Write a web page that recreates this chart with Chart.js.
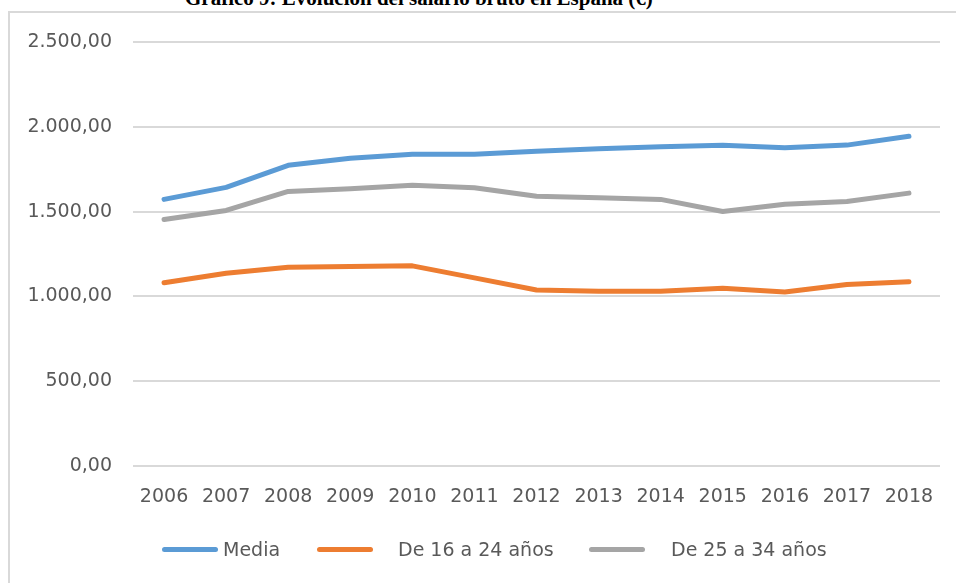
<!DOCTYPE html>
<html>
<head>
<meta charset="utf-8">
<script src="https://cdn.jsdelivr.net/npm/chart.js@4.4.1/dist/chart.umd.min.js"></script>
<style>
    html, body { margin: 0; padding: 0; background: #fff; }
    #wrap { position: relative; width: 956px; height: 583px; overflow: hidden; background: #fff; }
    #frame {
        position: absolute; left: 8px; top: 11px; width: 1000px; height: 700px;
        border-top: 2px solid #d9d9d9; border-left: 2px solid #d9d9d9;
    }
    #title {
        position: absolute; left: 185px; top: -12px; white-space: nowrap;
        font: bold 21px/21px "Liberation Serif", "Times New Roman", serif; color: #000;
    }
    canvas { position: absolute; left: 0; top: 0; }
    .lg-item { position: absolute; top: 537px; display: flex; align-items: center; height: 24px;
        font: 19px "DejaVu Sans", sans-serif; color: #595959; white-space: nowrap; }
    .lg-line { display: inline-block; width: 56px; height: 5px; border-radius: 3px; }
</style>
</head>
<body>
<div id="wrap">
    <div id="frame"></div>
    <div id="title">Gráfico 9: Evolución del salario bruto en España (€)</div>
    <canvas id="chart" width="956" height="583"></canvas>
    <div id="legend"></div>
</div>
<script>
// Datos (euros)
const years = ['2006', '2007', '2008', '2009', '2010', '2011', '2012', '2013', '2014', '2015', '2016', '2017', '2018'];
const media = [1572, 1643, 1773, 1814, 1838, 1838, 1856, 1870, 1882, 1891, 1877, 1892, 1944];
const de16a24 = [1080, 1137, 1172, 1176, 1180, 1109, 1038, 1030, 1030, 1048, 1026, 1070, 1087];
const de25a34 = [1453, 1507, 1619, 1635, 1656, 1641, 1590, 1582, 1572, 1501, 1543, 1560, 1609];
const yTicks = [0, 500, 1000, 1500, 2000, 2500];

const COLORS = { media: '#5B9BD5', joven: '#ED7D31', adulto: '#A5A5A5' };
const TEXT = '#595959';
const GRID = '#d9d9d9';

// "2.500,00"
function formatEs(v) {
    const [ent, dec] = Number(v).toFixed(2).split('.');
    return ent.replace(/\B(?=(\d{3})+(?!\d))/g, '.') + ',' + dec;
}

function lineSet(label, data, color) {
    return {
        label, data,
        borderColor: color,
        backgroundColor: color,
        borderWidth: 5,
        borderCapStyle: 'round',
        borderJoinStyle: 'round',
        pointRadius: 0,
        tension: 0,
        fill: false
    };
}

const chart = new Chart(document.getElementById('chart').getContext('2d'), {
    type: 'line',
    data: {
        labels: years,
        datasets: [
            lineSet('Media', media, COLORS.media),
            lineSet('De 16 a 24 años', de16a24, COLORS.joven),
            lineSet('De 25 a 34 años', de25a34, COLORS.adulto)
        ]
    },
    options: {
        responsive: false,
        animation: false,
        layout: { padding: { top: 42, right: 16, bottom: 67, left: 0 } },
        plugins: { legend: { display: false }, tooltip: { enabled: false }, title: { display: false } },
        scales: {
            x: {
                offset: true,
                grid: { display: false, drawTicks: false },
                border: { display: false },
                ticks: { color: TEXT, padding: 20, maxRotation: 0, font: { family: 'DejaVu Sans', size: 19 } },
                afterFit: s => { s.height = 50; }
            },
            y: {
                min: 0,
                max: 2500,
                afterBuildTicks: s => { s.ticks = yTicks.map(v => ({ value: v })); },
                grid: { color: GRID, lineWidth: 2, drawTicks: false },
                border: { display: false },
                ticks: { color: TEXT, padding: 21, callback: v => formatEs(v), font: { family: 'DejaVu Sans', size: 19 } },
                afterFit: s => { s.width = 133; }
            }
        }
    }
});

// leyenda HTML (posiciones como en el original)
const legendPos = [
    { left: 162, gap: 5 },
    { left: 317, gap: 25 },
    { left: 589, gap: 26 }
];
const legend = document.getElementById('legend');
chart.data.datasets.forEach((ds, i) => {
    const item = document.createElement('div');
    item.className = 'lg-item';
    item.style.left = legendPos[i].left + 'px';
    const line = document.createElement('span');
    line.className = 'lg-line';
    line.style.background = ds.borderColor;
    line.style.marginRight = legendPos[i].gap + 'px';
    const txt = document.createElement('span');
    txt.textContent = ds.label;
    item.appendChild(line);
    item.appendChild(txt);
    legend.appendChild(item);
});
</script>
</body>
</html>
